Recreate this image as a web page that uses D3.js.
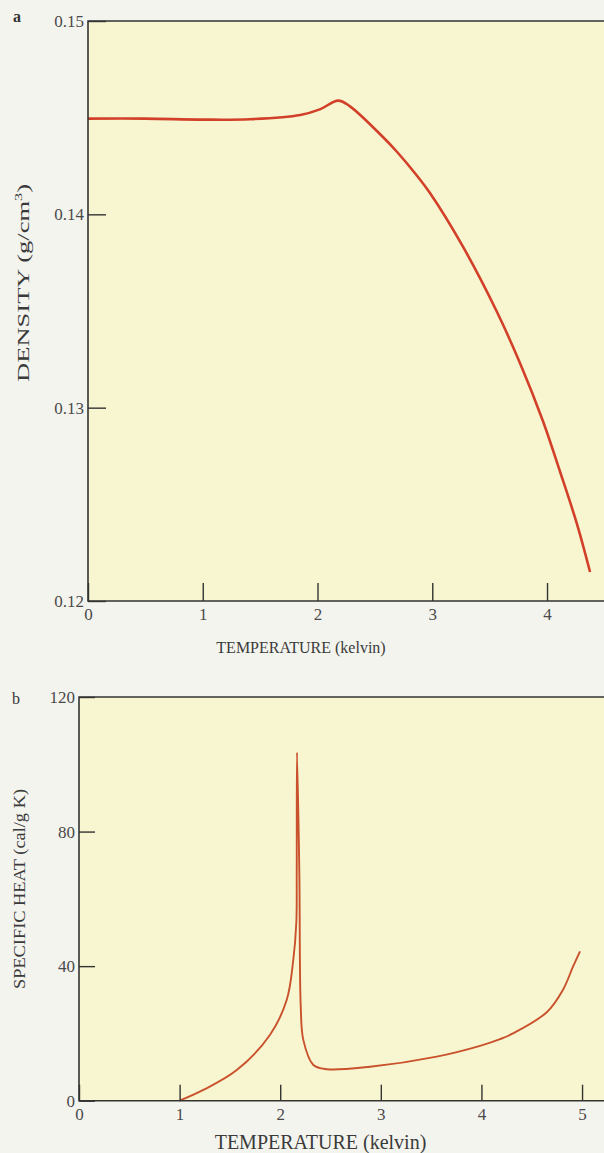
<!DOCTYPE html>
<html>
<head>
<meta charset="utf-8">
<script src="https://cdn.jsdelivr.net/npm/d3@7"></script>
<style>
  html, body { margin: 0; padding: 0; background: #f4f4ef; }
  svg { display: block; }
  .tick text { font-family: "Liberation Serif", serif; fill: #4a4a4a; }
</style>
</head>
<body>
<script>
// panel a: density of liquid helium
const densityTemp = [0, 0.5, 1.0, 1.41, 1.85, 2.02, 2.18, 2.28, 2.57, 2.69, 2.86, 2.98, 3.27, 3.56, 3.765, 3.965, 4.113, 4.26, 4.375];
const densityVal = [0.14495, 0.14495, 0.1449, 0.14492, 0.14514, 0.14543, 0.14588, 0.1456, 0.144, 0.14325, 0.14205, 0.1411, 0.1383, 0.135, 0.1323, 0.1293, 0.1267, 0.124, 0.1215];
const densityXTicks = [0, 1, 2, 3, 4];
const densityYTicks = [0.12, 0.13, 0.14, 0.15];

// panel b: specific heat
const heatTemp = [1.0, 1.236, 1.568, 1.899, 2.065, 2.13, 2.16, 2.164, 2.167, 2.19, 2.204, 2.23, 2.33, 2.462, 2.893, 3.556, 3.986, 4.185, 4.314, 4.649, 4.811, 4.911, 4.98];
const heatVal = [0, 3.2, 9.1, 19.6, 30, 41.9, 52.9, 67.8, 103.5, 67.8, 28, 18, 10.6, 9.35, 10.1, 13.1, 16.3, 18.3, 20.0, 26.3, 33, 39.9, 44.4];
const heatXTicks = [0, 1, 2, 3, 4, 5];
const heatYTicks = [0, 40, 80, 120];

const W = 604, H = 1153;
const svg = d3.select("body").append("svg").attr("width", W).attr("height", H);

function drawPanel(cfg) {
    const x = d3.scaleLinear().domain(cfg.xDomain).range([cfg.left, cfg.right]);
    const y = d3.scaleLinear().domain(cfg.yDomain).range([cfg.bottom, cfg.top]);
    const g = svg.append("g");

    g.append("rect")
        .attr("x", cfg.left).attr("y", cfg.top)
        .attr("width", W + 10 - cfg.left).attr("height", cfg.bottom - cfg.top)
        .attr("fill", "#f8f6d1");

    const data = cfg.xs.map((t, i) => [t, cfg.ys[i]]);
    g.append("path")
        .datum(data)
        .attr("fill", "none")
        .attr("stroke", cfg.lineColor)
        .attr("stroke-width", cfg.lineWidth)
        .attr("stroke-linejoin", "round")
        .attr("d", d3.line().x(d => x(d[0])).y(d => y(d[1])).curve(d3.curveCatmullRom.alpha(0.5)));

    const yAxis = d3.axisLeft(y).tickValues(cfg.yTicks).tickFormat(cfg.yFormat)
        .tickSizeInner(-cfg.tickLen).tickSizeOuter(0).tickPadding(4);
    const gy = g.append("g").attr("transform", `translate(${cfg.left},0)`).call(yAxis);
    gy.select(".domain").remove();
    gy.selectAll("text").style("font-size", cfg.tickFont + "px");

    const xAxis = d3.axisBottom(x).tickValues(cfg.xTicks).tickFormat(d3.format("d"))
        .tickSizeInner(-cfg.tickLen).tickSizeOuter(0).tickPadding(7);
    const gx = g.append("g").attr("transform", `translate(0,${cfg.bottom})`).call(xAxis);
    gx.select(".domain").remove();
    gx.selectAll("text").style("font-size", cfg.tickFont + "px");

    g.selectAll(".tick line").attr("stroke", "#333").attr("stroke-width", 1.4);

    // frame: left, top, bottom
    g.append("path")
        .attr("d", `M${W + 10},${cfg.top}H${cfg.left}V${cfg.bottom}H${W + 10}`)
        .attr("fill", "none").attr("stroke", "#333").attr("stroke-width", 1.6);

    g.append("text")
        .attr("x", (cfg.left + W) / 2 + cfg.titleShift).attr("y", cfg.bottom + cfg.titleGap)
        .attr("text-anchor", "middle")
        .style("font-family", "Liberation Serif, serif").style("font-size", cfg.titleFont + "px")
        .attr("fill", "#3a3a3a")
        .text("TEMPERATURE (kelvin)");

    const yt = g.append("text")
        .attr("transform", `translate(${cfg.yTitleX},${cfg.yTitleY}) rotate(-90)`)
        .attr("text-anchor", "middle")
        .attr("textLength", cfg.yTitleLen).attr("lengthAdjust", "spacingAndGlyphs")
        .style("font-family", "Liberation Serif, serif").style("font-size", cfg.yTitleFont + "px")
        .attr("fill", "#3a3a3a");
    cfg.yTitle(yt);

    g.append("text")
        .attr("x", cfg.letterX).attr("y", cfg.letterY)
        .style("font-family", "Liberation Serif, serif").style("font-size", "16px")
        .style("font-weight", cfg.letterBold ? "bold" : "normal")
        .attr("fill", "#333")
        .text(cfg.letter);
}

drawPanel({
    xDomain: [0, 4.5], yDomain: [0.12, 0.15],
    left: 88, right: 604.4, top: 21, bottom: 601,
    xs: densityTemp, ys: densityVal,
    xTicks: densityXTicks, yTicks: densityYTicks, yFormat: d3.format(".2f"),
    lineColor: "#d2402a", lineWidth: 2.6,
    tickLen: 18, tickFont: 17,
    titleFont: 16, titleGap: 52, titleShift: -45,
    yTitleX: 29, yTitleY: 283, yTitleFont: 16.5, yTitleLen: 198,
    yTitle: t => {
        t.append("tspan").text("DENSITY (g/cm");
        t.append("tspan").attr("dy", -7).style("font-size", "10px").text("3");
        t.append("tspan").attr("dy", 7).text(")");
    },
    letter: "a", letterX: 13, letterY: 22, letterBold: true
});

drawPanel({
    xDomain: [0, 5.25], yDomain: [0, 120],
    left: 79, right: 607.2, top: 697, bottom: 1100.7,
    xs: heatTemp, ys: heatVal,
    xTicks: heatXTicks, yTicks: heatYTicks, yFormat: d3.format("d"),
    lineColor: "#c9512c", lineWidth: 1.9,
    tickLen: 16, tickFont: 17,
    titleFont: 20, titleGap: 48, titleShift: -21,
    yTitleX: 25, yTitleY: 889, yTitleFont: 17.5, yTitleLen: 200,
    yTitle: t => t.text("SPECIFIC HEAT (cal/g K)"),
    letter: "b", letterX: 12, letterY: 704, letterBold: false
});
</script>
</body>
</html>
